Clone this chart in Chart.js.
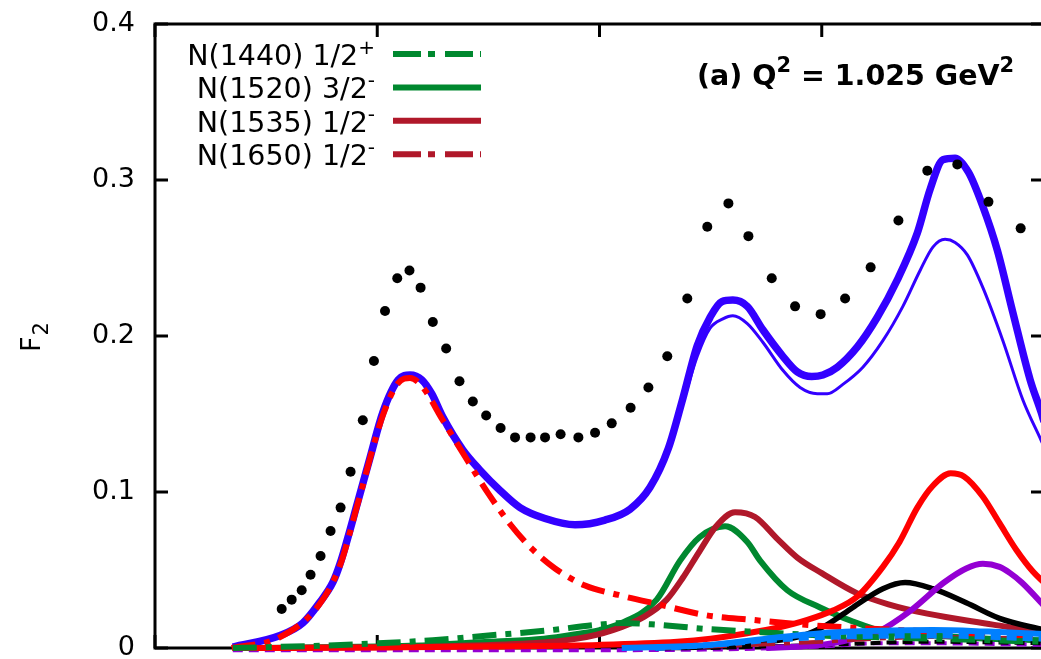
<!DOCTYPE html>
<html>
<head>
<meta charset="utf-8">
<script src="https://cdn.jsdelivr.net/npm/chart.js@4.4.1/dist/chart.umd.min.js"></script>
<style>
html,body{margin:0;padding:0;background:#fff;overflow:hidden;}
#wrap{position:absolute;left:0;top:0;width:1100px;height:700px;}
</style>
</head>
<body>
<div id="wrap"><canvas id="c" width="1100" height="700"></canvas></div>
<script>
// ---- axis ticks ----
const xTickValues = [1.0, 1.2, 1.4, 1.6, 1.8];
const yTickValues = [0, 0.1, 0.2, 0.3, 0.4];
const yTickLabels = ['0', '0.1', '0.2', '0.3', '0.4'];

// ---- data points ----
const dataW = [1.114,1.123,1.132,1.140,1.149,1.158,1.167,1.176,1.187,1.197,1.207,1.218,1.229,1.239,1.250,1.262,1.274,1.286,1.298,1.311,1.324,1.338,1.351,1.365,1.381,1.396,1.411,1.428,1.444,1.461,1.479,1.497,1.516,1.534,1.555,1.576,1.599,1.621,1.644,1.669,1.695,1.722,1.750,1.779];
const dataF = [0.025,0.031,0.037,0.047,0.059,0.075,0.090,0.113,0.146,0.184,0.216,0.237,0.242,0.231,0.209,0.192,0.171,0.158,0.149,0.141,0.135,0.135,0.135,0.137,0.135,0.138,0.144,0.154,0.167,0.187,0.224,0.270,0.285,0.264,0.237,0.219,0.214,0.224,0.244,0.274,0.306,0.310,0.286,0.269];

// ---- total (thick) ----
const totalW = [1.07,1.1125,1.133,1.148,1.160,1.1665,1.183,1.1935,1.205,1.219,1.2295,1.240,1.249,1.259,1.277,1.2925,1.3105,1.3285,1.351,1.378,1.405,1.4275,1.4455,1.462,1.475,1.488,1.4995,1.510,1.520,1.533,1.547,1.565,1.578,1.591,1.601,1.614,1.632,1.650,1.668,1.686,1.6975,1.709,1.720,1.732,1.745,1.758,1.772,1.7875,1.7975,1.80];
const totalF = [0.0006,0.008,0.016,0.029,0.042,0.054,0.095,0.122,0.151,0.172,0.175,0.172,0.163,0.148,0.127,0.114,0.101,0.090,0.083,0.079,0.082,0.089,0.103,0.128,0.160,0.194,0.212,0.222,0.223,0.219,0.204,0.187,0.177,0.174,0.175,0.180,0.193,0.212,0.236,0.266,0.294,0.313,0.314,0.305,0.283,0.255,0.215,0.172,0.151,0.145];

// ---- thin total ----
const thinW = [1.4275,1.4455,1.462,1.475,1.488,1.4995,1.511,1.520,1.533,1.547,1.565,1.5805,1.596,1.605,1.619,1.637,1.655,1.673,1.6885,1.700,1.711,1.720,1.731,1.745,1.763,1.781,1.7975,1.80];
const thinF = [0.089,0.103,0.128,0.157,0.187,0.205,0.211,0.213,0.208,0.196,0.178,0.167,0.163,0.163,0.169,0.180,0.197,0.219,0.242,0.257,0.262,0.260,0.252,0.231,0.197,0.159,0.133,0.129];

// ---- Delta(1232) red dash-dot ----
const deltaW = [1.069,1.1125,1.148,1.1665,1.183,1.205,1.219,1.2295,1.240,1.259,1.277,1.30,1.32,1.34,1.36,1.387,1.417,1.453,1.496,1.538,1.583,1.628,1.718,1.778,1.80];
const deltaF = [0,0.007,0.028,0.053,0.094,0.149,0.170,0.173,0.168,0.146,0.125,0.099,0.079,0.063,0.051,0.040,0.034,0.028,0.021,0.018,0.015,0.013,0.010,0.008,0.0075];

// ---- N(1440) green dash-dot ----
const n1440W = [1.07,1.1,1.15,1.2,1.25,1.3,1.35,1.40,1.42,1.45,1.5,1.55,1.6,1.7,1.8];
const n1440F = [0,0.0005,0.0015,0.003,0.005,0.008,0.011,0.015,0.016,0.015,0.012,0.010,0.008,0.006,0.004];

// ---- N(1520) green solid ----
const n1520W = [1.1,1.2,1.25,1.3,1.35,1.38,1.40,1.42,1.4515,1.4725,1.49,1.513,1.533,1.5445,1.569,1.5985,1.628,1.659,1.7,1.75,1.8];
const n1520F = [0,0.001,0.002,0.004,0.006,0.009,0.0115,0.016,0.031,0.056,0.071,0.078,0.068,0.056,0.037,0.026,0.017,0.010,0.008,0.006,0.005];

// ---- N(1535) dark red solid ----
const n1535W = [1.1,1.25,1.3375,1.38,1.412,1.44,1.4605,1.475,1.49,1.505,1.522,1.54,1.56,1.578,1.60,1.632,1.66,1.695,1.754,1.7965,1.8];
const n1535F = [0,0.001,0.003,0.006,0.0115,0.020,0.031,0.045,0.062,0.078,0.087,0.084,0.070,0.058,0.048,0.035,0.028,0.022,0.015,0.010,0.0095];

// ---- N(1650) dark red dash-dot ----
const n1650W = [1.45,1.5,1.6,1.65,1.7,1.8];
const n1650F = [0,0.001,0.004,0.006,0.007,0.006];

// ---- third-region components ----
const redW = [1.07,1.2,1.3,1.4,1.47,1.5,1.533,1.56,1.587,1.61,1.632,1.655,1.67,1.686,1.70,1.716,1.728,1.745,1.76,1.775,1.79,1.80];
const redF = [0,0.0003,0.001,0.002,0.004,0.006,0.0095,0.013,0.018,0.024,0.033,0.052,0.068,0.090,0.104,0.112,0.110,0.097,0.080,0.063,0.049,0.042];
const blackW = [1.45,1.5,1.55,1.583,1.605,1.628,1.655,1.675,1.70,1.73,1.76,1.8];
const blackF = [0,0.001,0.004,0.008,0.015,0.026,0.038,0.042,0.038,0.029,0.019,0.0115];
const purpleW = [1.55,1.6,1.63,1.652,1.68,1.71,1.73,1.745,1.76,1.7695,1.78,1.7975,1.8];
const purpleF = [0,0.002,0.006,0.011,0.024,0.042,0.051,0.054,0.052,0.048,0.042,0.029,0.027];
const azureW = [1.42,1.47,1.5,1.55,1.6,1.65,1.7,1.75,1.8];
const azureF = [0,0.001,0.002,0.006,0.0095,0.011,0.0115,0.0105,0.009];
const azureDashW = [1.45,1.5,1.55,1.6,1.7,1.8];
const azureDashF = [0,0.002,0.005,0.007,0.008,0.006];
const purpleDashW = [1.07,1.3,1.5,1.6,1.65,1.7,1.8];
const purpleDashF = [-0.0015,-0.0015,-0.001,0.001,0.003,0.003,0.002];
const blackDashW = [1.5,1.6,1.7,1.8];
const blackDashF = [0,0.002,0.004,0.003];

// ---- legend ----
const legendLabels = ['N(1440) 1/2', 'N(1520) 3/2', 'N(1535) 1/2', 'N(1650) 1/2'];
const legendSups = ['+', '-', '-', '-'];
const legendColors = ['#00882f', '#00882f', '#b0182a', '#b0182a'];
const legendDashed = [true, false, false, true];

const FONT = "'DejaVu Sans', 'Liberation Sans', sans-serif";
const DASHDOT = [24, 9, 6, 9];

function pts(xs, ys){ return xs.map((x,i)=>({x:x, y:ys[i]})); }
function line(xs, ys, color, width, dash){
  return {data: pts(xs, ys), borderColor: color, borderWidth: width, borderDash: dash || [],
    pointRadius: 0, fill: false, cubicInterpolationMode: 'monotone', borderCapStyle: 'butt',
    clip: {left: 4, top: 4, right: 4, bottom: 6}};
}

const datasets = [
  {data: pts(dataW, dataF), showLine: false, pointRadius: 5, pointBackgroundColor: '#000', pointBorderWidth: 0, borderColor: '#000'},
  line(azureW, azureF, '#0080ff', 6),
  line(azureDashW, azureDashF, '#0080ff', 6, [10, 6]),
  line(n1440W, n1440F, '#00882f', 6, DASHDOT),
  line(deltaW, deltaF, '#ff0000', 6, DASHDOT),
  line(n1650W, n1650F, '#b0182a', 4, DASHDOT),
  line(redW, redF, '#ff0000', 6),
  line(purpleW, purpleF, '#9400d3', 6),
  line(blackW, blackF, '#000000', 5.5),
  line(blackDashW, blackDashF, '#000000', 4, [10, 6]),
  line(purpleDashW, purpleDashF, '#9400d3', 4, [10, 6]),
  line(n1535W, n1535F, '#b0182a', 6),
  line(n1520W, n1520F, '#00882f', 6),
  line(thinW, thinF, '#3300ff', 3),
  line(totalW, totalF, '#3300ff', 7.5)
];

const framePlugin = {
  id: 'frame',
  beforeDatasetsDraw(chart){
    const ctx = chart.ctx, a = chart.chartArea;
    const xs = chart.scales.x, ys = chart.scales.y;
    ctx.save();
    ctx.strokeStyle = '#000';
    ctx.lineWidth = 3;
    ctx.lineCap = 'butt';
    ctx.strokeRect(a.left, a.top, a.right - a.left, a.bottom - a.top);
    const TL = 13;
    ctx.beginPath();
    yTickValues.forEach(v => {
      const y = ys.getPixelForValue(v);
      ctx.moveTo(a.left, y); ctx.lineTo(a.left + TL, y);
      ctx.moveTo(a.right, y); ctx.lineTo(a.right - TL, y);
    });
    xTickValues.forEach(v => {
      const x = xs.getPixelForValue(v);
      ctx.moveTo(x, a.top); ctx.lineTo(x, a.top + TL);
      ctx.moveTo(x, a.bottom); ctx.lineTo(x, a.bottom - TL);
    });
    ctx.stroke();
    ctx.restore();
  },
  afterDraw(chart){
    const ctx = chart.ctx, a = chart.chartArea;
    ctx.save();
    ctx.fillStyle = '#000';
    ctx.textBaseline = 'alphabetic';
    // legend
    const rightEdge = a.left + 220;
    legendLabels.forEach((lab, i) => {
      const base = a.top + 41 + i * 33.4;
      ctx.font = '20px ' + FONT;
      const sw = ctx.measureText(legendSups[i]).width;
      ctx.font = '28.5px ' + FONT;
      const mw = ctx.measureText(lab).width;
      ctx.textAlign = 'left';
      ctx.fillText(lab, rightEdge - sw - mw, base);
      ctx.font = '20px ' + FONT;
      ctx.fillText(legendSups[i], rightEdge - sw, base - 11);
      ctx.beginPath();
      ctx.strokeStyle = legendColors[i];
      ctx.lineWidth = 6;
      ctx.lineCap = 'butt';
      ctx.setLineDash(legendDashed[i] ? [28, 7, 7, 10] : []);
      ctx.moveTo(a.left + 238, base - 11);
      ctx.lineTo(a.left + 326, base - 11);
      ctx.stroke();
      ctx.setLineDash([]);
    });
    // annotation
    let x = 697; const by = 85;
    const parts = [['(a) Q', false], ['2', true], [' = 1.025 GeV', false], ['2', true]];
    ctx.textAlign = 'left';
    parts.forEach(p => {
      ctx.font = p[1] ? 'bold 21px ' + FONT : 'bold 28.5px ' + FONT;
      ctx.fillText(p[0], x, p[1] ? by - 13 : by);
      x += ctx.measureText(p[0]).width;
    });
    // y axis title F_2
    ctx.translate(40, 352);
    ctx.rotate(-Math.PI / 2);
    ctx.font = '27px ' + FONT;
    ctx.fillText('F', 0, 0);
    const fw = ctx.measureText('F').width;
    ctx.font = '21px ' + FONT;
    ctx.fillText('2', fw + 1, 8);
    ctx.restore();
  }
};

new Chart(document.getElementById('c'), {
  type: 'line',
  data: {datasets: datasets},
  options: {
    responsive: false,
    animation: false,
    events: [],
    layout: {padding: {left: 0, top: 24, right: 56, bottom: 52}},
    plugins: {legend: {display: false}, tooltip: {enabled: false}},
    scales: {
      x: {type: 'linear', min: 1.0, max: 1.8, display: false},
      y: {
        type: 'linear', min: 0, max: 0.4,
        grid: {display: false, drawTicks: false},
        border: {display: false},
        afterFit(scale){ scale.width = 155; scale.paddingTop = 0; scale.paddingBottom = 0; },
        ticks: {
          stepSize: 0.1, padding: 20, color: '#000',
          font: {family: FONT, size: 27},
          callback: (v, i) => yTickLabels[i]
        }
      }
    }
  },
  plugins: [framePlugin]
});
</script>
</body>
</html>
